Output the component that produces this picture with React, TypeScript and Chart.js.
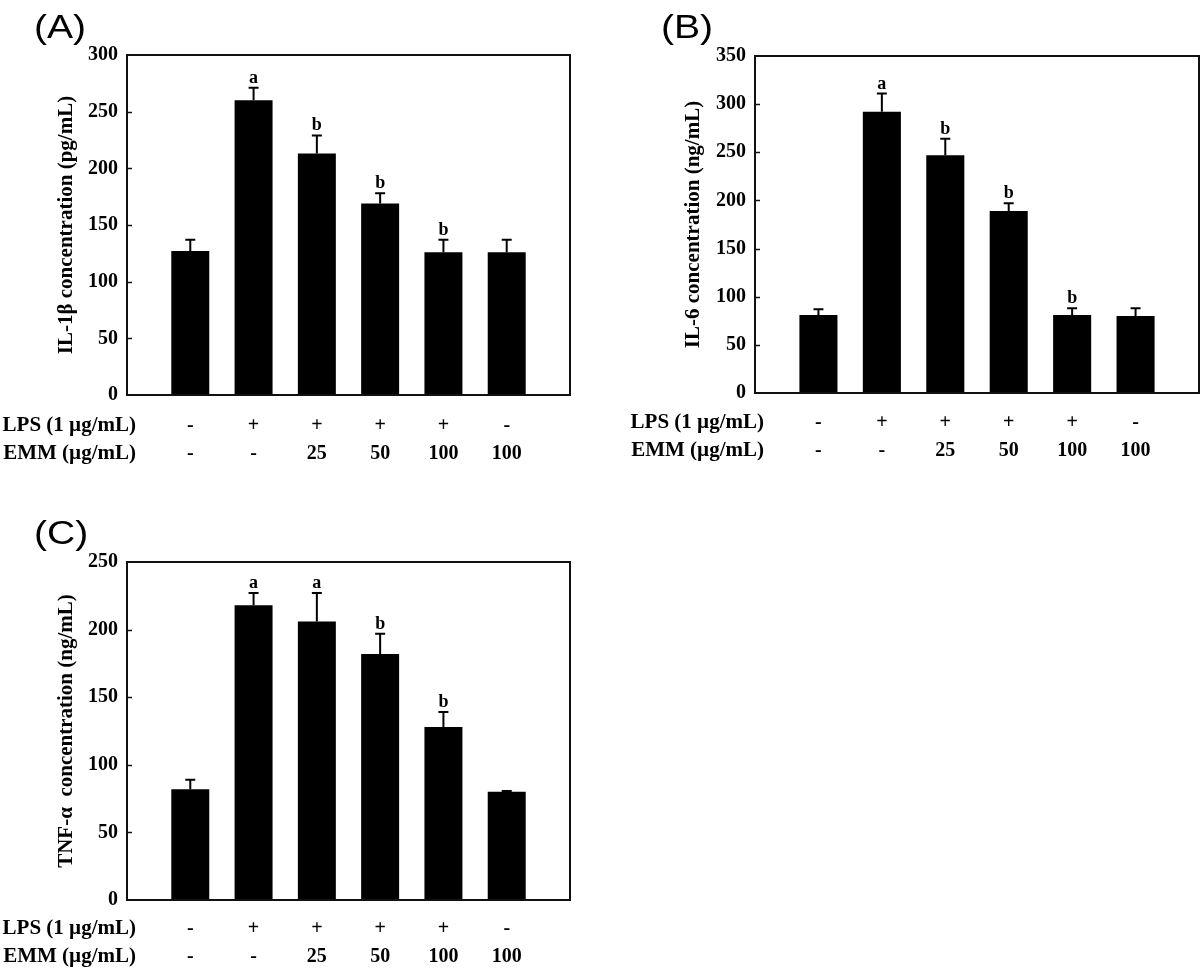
import React, { useEffect, useRef } from "react";
import { Chart, registerables } from "chart.js";

Chart.register(...registerables);

// ---------- data ----------
const LPS_ROW = ["-", "+", "+", "+", "+", "-"];
const EMM_ROW = ["-", "-", "25", "50", "100", "100"];
const LPS_TITLE = "LPS (1 \u00B5g/mL)";
const EMM_TITLE = "EMM (\u00B5g/mL)";

const IL1B_MEAN = [127, 260, 213, 169, 126, 126];
const IL1B_ERR = [10, 11, 16, 9, 11, 11];
const IL1B_LETTERS = ["", "a", "b", "b", "b", ""];

const IL6_MEAN = [81, 292, 247, 189, 81, 80];
const IL6_ERR = [6, 19, 17, 8, 7, 8];
const IL6_LETTERS = ["", "a", "b", "b", "b", ""];

const TNF_MEAN = [82, 218, 206, 182, 128, 80];
const TNF_ERR = [7, 9, 21, 15, 11, 0.6];
const TNF_LETTERS = ["", "a", "a", "b", "b", ""];

const Y_TICK_STEP = 50;

// ---------- layout / style ----------
const SERIF = '"Liberation Serif", "Times New Roman", serif';
const SANS = '"Liberation Sans", Arial, sans-serif';
const TICK_FONT_SIZE = 20;
const ROW_FONT_SIZE = 21;
const ROW_LINE_HEIGHT = 1.4; // 28px
const ROW_PAD = 17;

type PanelCfg = {
  label: string;
  mean: number[];
  err: number[];
  letters: string[];
  yMax: number;
  yTitle: string;
  box: { left: number; top: number; width: number; height: number };
  area: { left: number; top: number; right: number; bottom: number };
  titleCenterX: number;
  labelX: number;
  labelBaseline: number;
  rowPad: number;
};

const PANELS: PanelCfg[] = [
  {
    label: "(A)",
    mean: IL1B_MEAN,
    err: IL1B_ERR,
    letters: IL1B_LETTERS,
    yMax: 300,
    yTitle: "IL-1\u03B2 concentration (pg/mL)",
    box: { left: 0, top: 0, width: 600, height: 480 },
    area: { left: 127, top: 55, right: 570, bottom: 395 },
    titleCenterX: 67,
    labelX: 34,
    labelBaseline: 38,
    rowPad: ROW_PAD,
  },
  {
    label: "(B)",
    mean: IL6_MEAN,
    err: IL6_ERR,
    letters: IL6_LETTERS,
    yMax: 350,
    yTitle: "IL-6 concentration (ng/mL)",
    box: { left: 600, top: 0, width: 600, height: 480 },
    area: { left: 155, top: 56, right: 599, bottom: 393 },
    titleCenterX: 94,
    labelX: 61,
    labelBaseline: 38,
    rowPad: ROW_PAD - 1,
  },
  {
    label: "(C)",
    mean: TNF_MEAN,
    err: TNF_ERR,
    letters: TNF_LETTERS,
    yMax: 250,
    yTitle: "TNF-\u03B1  concentration (ng/mL)",
    box: { left: 0, top: 480, width: 600, height: 488 },
    area: { left: 127, top: 82, right: 570, bottom: 420 },
    titleCenterX: 67,
    labelX: 34,
    labelBaseline: 64,
    rowPad: ROW_PAD - 2,
  },
];

function makeDecor(cfg: PanelCfg) {
  return {
    id: "decor",
    afterDraw(chart: any) {
      const { ctx, chartArea: a } = chart;
      const x = chart.scales.x;
      const y = chart.scales.y;
      ctx.save();
      // frame
      ctx.strokeStyle = "#111";
      ctx.lineWidth = 2;
      ctx.strokeRect(a.left, a.top, a.right - a.left, a.bottom - a.top);
      // inward y ticks
      ctx.beginPath();
      for (let v = Y_TICK_STEP; v < cfg.yMax; v += Y_TICK_STEP) {
        const py = Math.round(y.getPixelForValue(v)) + 0.5;
        ctx.moveTo(a.left, py);
        ctx.lineTo(a.left + 5, py);
      }
      ctx.lineWidth = 1.5;
      ctx.stroke();
      // error bars + letters
      ctx.lineWidth = 2;
      ctx.strokeStyle = "#000";
      ctx.fillStyle = "#000";
      cfg.mean.forEach((m, i) => {
        const px = x.getPixelForValue(i + 1);
        const yBar = y.getPixelForValue(m);
        const yTop = y.getPixelForValue(m + cfg.err[i]);
        ctx.beginPath();
        ctx.moveTo(px, yBar);
        ctx.lineTo(px, yTop);
        ctx.moveTo(px - 5, yTop);
        ctx.lineTo(px + 5, yTop);
        ctx.stroke();
        if (cfg.letters[i]) {
          ctx.font = `bold 18px ${SERIF}`;
          ctx.textAlign = "center";
          ctx.textBaseline = "alphabetic";
          ctx.fillText(cfg.letters[i], px, yTop - 5);
        }
      });
      // row titles
      const lh = TICK_FONT_SIZE * ROW_LINE_HEIGHT;
      ctx.font = `bold ${ROW_FONT_SIZE}px ${SERIF}`;
      ctx.textAlign = "right";
      ctx.textBaseline = "middle";
      const r1 = a.bottom + cfg.rowPad + lh / 2;
      ctx.fillText(LPS_TITLE, a.left + 9, r1);
      ctx.fillText(EMM_TITLE, a.left + 9, r1 + lh);
      // panel label (slightly wide sans)
      ctx.font = `34px ${SANS}`;
      ctx.textAlign = "left";
      ctx.textBaseline = "alphabetic";
      ctx.translate(cfg.labelX, cfg.labelBaseline);
      ctx.scale(1.15, 1);
      ctx.fillText(cfg.label, 0, 0);
      ctx.restore();
    },
  };
}

function Panel({ cfg }: { cfg: PanelCfg }) {
  const ref = useRef<HTMLCanvasElement | null>(null);
  useEffect(() => {
    if (!ref.current) return;
    const titleFont = 21;
    const chart = new Chart(ref.current, {
      type: "bar",
      data: {
        datasets: [
          {
            data: cfg.mean.map((v, i) => ({ x: i + 1, y: v })),
            backgroundColor: "#000",
            borderWidth: 0,
            barPercentage: 0.6,
            categoryPercentage: 1,
          } as any,
        ],
      },
      options: {
        animation: false,
        responsive: false,
        devicePixelRatio: 1,
        layout: {
          padding: {
            left: 0,
            top: cfg.area.top,
            right: cfg.box.width - cfg.area.right,
            bottom: 0,
          },
        },
        plugins: { legend: { display: false }, tooltip: { enabled: false } },
        scales: {
          x: {
            type: "linear",
            min: 0,
            max: 7,
            offset: false,
            grid: { display: false, drawTicks: false, offset: false },
            border: { display: false },
            afterBuildTicks: (s: any) => {
              s.ticks = LPS_ROW.map((_, i) => ({ value: i + 1 }));
            },
            afterFit: (s: any) => {
              s.height = cfg.box.height - cfg.area.bottom;
            },
            ticks: {
              autoSkip: false,
              maxRotation: 0,
              minRotation: 0,
              padding: cfg.rowPad,
              color: "#000",
              font: { family: SERIF, size: TICK_FONT_SIZE, weight: "bold", lineHeight: ROW_LINE_HEIGHT },
              callback: (v: any) => {
                const i = Number(v) - 1;
                return [LPS_ROW[i], EMM_ROW[i]];
              },
            },
          },
          y: {
            type: "linear",
            min: 0,
            max: cfg.yMax,
            grid: { display: false, drawTicks: false },
            border: { display: false },
            afterFit: (s: any) => {
              s.width = cfg.area.left;
            },
            ticks: {
              stepSize: Y_TICK_STEP,
              padding: 9,
              color: "#000",
              font: { family: SERIF, size: TICK_FONT_SIZE, weight: "bold" },
            },
            title: {
              display: true,
              text: cfg.yTitle,
              color: "#000",
              font: { family: SERIF, size: titleFont, weight: "bold", lineHeight: 1.2 },
              padding: { top: cfg.titleCenterX - (titleFont * 1.2) / 2, bottom: 0 },
            },
          },
        },
      } as any,
      plugins: [makeDecor(cfg)],
    });
    return () => chart.destroy();
  }, [cfg]);
  return (
    <canvas
      ref={ref}
      width={cfg.box.width}
      height={cfg.box.height}
      style={{
        position: "absolute",
        left: cfg.box.left,
        top: cfg.box.top,
        width: cfg.box.width,
        height: cfg.box.height,
      }}
    />
  );
}

export default function App() {
  return (
    <div
      style={{
        position: "absolute",
        left: 0,
        top: 0,
        width: 1200,
        height: 968,
        background: "#fff",
        overflow: "hidden",
      }}
    >
      {PANELS.map((p) => (
        <Panel key={p.label} cfg={p} />
      ))}
    </div>
  );
}
